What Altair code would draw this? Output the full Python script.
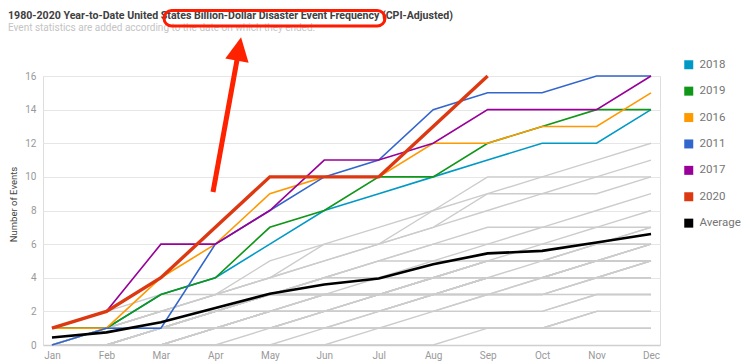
import altair as alt
import pandas as pd

months = ["Jan", "Feb", "Mar", "Apr", "May", "Jun", "Jul", "Aug", "Sep", "Oct", "Nov", "Dec"]

# Highlighted years (cumulative events by month)
y2018 = [1, 1, 3, 4, 6, 8, 9, 10, 11, 12, 12, 14]
y2019 = [1, 1, 3, 4, 7, 8, 10, 10, 12, 13, 14, 14]
y2016 = [1, 1, 4, 6, 9, 10, 10, 12, 12, 13, 13, 15]
y2011 = [0, 1, 1, 6, 8, 10, 11, 14, 15, 15, 16, 16]
y2017 = [1, 2, 6, 6, 8, 11, 11, 12, 14, 14, 14, 16]
y2020 = [1, 2, 4, 7, 10, 10, 10, 13, 16]
average = [0.45, 0.75, 1.35, 2.2, 3.05, 3.6, 3.95, 4.8, 5.45, 5.6, 6.1, 6.6]

# Other years (grey background lines)
gray_years = {
    "1980": [0, 0, 0, 1, 1, 1, 2, 2, 3, 3, 3, 3],
    "1981": [0, 0, 0, 0, 1, 1, 1, 1, 1, 1, 2, 2],
    "1982": [0, 1, 1, 1, 2, 2, 2, 2, 2, 2, 3, 3],
    "1983": [0, 0, 1, 1, 2, 2, 2, 3, 4, 4, 5, 5],
    "1984": [0, 0, 0, 1, 1, 1, 1, 1, 1, 1, 2, 2],
    "1985": [0, 0, 0, 1, 1, 1, 2, 3, 4, 5, 6, 6],
    "1986": [0, 0, 0, 0, 0, 1, 1, 1, 1, 1, 2, 2],
    "1987": [0, 0, 0, 0, 0, 0, 0, 0, 1, 1, 1, 1],
    "1988": [0, 0, 0, 0, 0, 0, 1, 1, 1, 1, 1, 1],
    "1989": [0, 0, 1, 1, 1, 1, 1, 2, 3, 3, 4, 4],
    "1990": [0, 1, 1, 1, 2, 2, 3, 3, 3, 3, 4, 4],
    "1991": [0, 0, 0, 1, 1, 2, 2, 3, 3, 4, 4, 4],
    "1992": [0, 0, 1, 1, 2, 3, 3, 4, 5, 5, 6, 7],
    "1993": [0, 0, 1, 1, 1, 2, 3, 3, 4, 4, 5, 5],
    "1994": [1, 1, 1, 2, 2, 2, 2, 3, 3, 4, 4, 5],
    "1995": [0, 1, 1, 2, 2, 3, 3, 4, 5, 5, 5, 6],
    "1996": [1, 1, 1, 1, 2, 3, 3, 3, 4, 4, 4, 5],
    "1997": [1, 1, 2, 2, 3, 3, 3, 3, 3, 3, 4, 5],
    "1998": [1, 2, 3, 3, 4, 5, 6, 7, 9, 9, 10, 10],
    "1999": [1, 1, 2, 2, 3, 3, 3, 4, 5, 5, 5, 6],
    "2000": [0, 0, 1, 1, 2, 2, 3, 3, 4, 4, 4, 5],
    "2001": [0, 0, 0, 1, 1, 2, 2, 2, 2, 2, 3, 3],
    "2002": [0, 0, 1, 2, 3, 3, 4, 4, 5, 5, 6, 6],
    "2003": [0, 1, 1, 2, 3, 4, 4, 5, 6, 6, 7, 7],
    "2004": [0, 0, 0, 1, 1, 2, 2, 3, 4, 4, 5, 5],
    "2005": [0, 1, 1, 1, 2, 2, 3, 4, 5, 5, 5, 6],
    "2006": [0, 0, 1, 2, 3, 3, 3, 4, 5, 6, 6, 7],
    "2007": [1, 1, 1, 2, 2, 3, 3, 4, 4, 4, 5, 5],
    "2008": [1, 2, 2, 3, 5, 6, 7, 8, 9, 10, 10, 11],
    "2009": [1, 1, 2, 3, 3, 4, 5, 5, 5, 5, 5, 6],
    "2010": [0, 0, 1, 2, 3, 3, 3, 4, 4, 4, 5, 5],
    "2012": [0, 1, 2, 3, 4, 6, 6, 8, 10, 10, 11, 12],
    "2013": [0, 1, 1, 2, 3, 4, 5, 6, 7, 7, 8, 9],
    "2014": [0, 1, 1, 2, 3, 4, 5, 6, 6, 7, 7, 8],
    "2015": [0, 1, 2, 3, 4, 5, 6, 7, 8, 9, 9, 10],
}

legend_labels = ["2018", "2019", "2016", "2011", "2017", "2020", "Average"]
legend_colors = ["#0099c6", "#109618", "#ff9900", "#3366cc", "#990099", "#dc3912", "#000000"]

title_text = "1980-2020 Year-to-Date United States Billion-Dollar Disaster Event Frequency (CPI-Adjusted)"
subtitle_text = "Event statistics are added according to the date on which they ended."


def long(name, values):
    return [{"series": name, "month": m, "events": v} for m, v in zip(months, values)]


gray_rows = []
for k, v in gray_years.items():
    gray_rows += long(k, v)
gray_df = pd.DataFrame(gray_rows)

main_df = pd.DataFrame(
    long("2018", y2018) + long("2019", y2019) + long("2016", y2016)
    + long("2011", y2011) + long("2017", y2017)
)
avg_df = pd.DataFrame(long("Average", average))
red_df = pd.DataFrame(long("2020", y2020))

x_enc = alt.X(
    "month:O", sort=months,
    scale=alt.Scale(type="point", padding=0.165),
    axis=alt.Axis(title=None, labelAngle=0, labelFontSize=10, labelColor="#999999",
                  labelFont="Roboto", ticks=False, domain=True, domainColor="#cfcfcf",
                  domainWidth=1.5, labelPadding=5, grid=False),
)
y_enc = alt.Y(
    "events:Q",
    scale=alt.Scale(domain=[0, 16], nice=False),
    axis=alt.Axis(title="Number of Events", values=list(range(0, 17, 2)), labelFontSize=10,
                  labelColor="#999999", labelFont="Roboto", ticks=False, domain=False,
                  labelPadding=7, gridColor="#e6e6e6", gridWidth=1,
                  titleFont="Roboto", titleFontSize=9.5, titleFontWeight="normal",
                  titleColor="#444444", titleX=-30, titleY=128, titleAngle=-90,
                  titleAlign="center", titleBaseline="middle"),
)

color_scale = alt.Scale(domain=legend_labels, range=legend_colors)
legend = alt.Legend(
    title=None, orient="none", legendX=640, legendY=-17, symbolType="square",
    symbolSize=16, symbolStrokeWidth=5, labelFontSize=11.5, labelColor="#757575",
    labelFont="Roboto", rowPadding=1.4, labelOffset=5, padding=0, symbolOpacity=1,
)
color_enc = alt.Color("series:N", scale=color_scale, legend=legend)

gray = alt.Chart(gray_df).mark_line(strokeWidth=1.4, color="#cccccc").encode(
    x=x_enc, y=y_enc, detail="series:N"
)
main = alt.Chart(main_df).mark_line(strokeWidth=1.6).encode(x=x_enc, y=y_enc, color=color_enc)
avg = alt.Chart(avg_df).mark_line(strokeWidth=2.6).encode(x=x_enc, y=y_enc, color=color_enc)
red = alt.Chart(red_df).mark_line(strokeWidth=3.4).encode(x=x_enc, y=y_enc, color=color_enc)

ann_df = pd.DataFrame({"title": [title_text], "subtitle": [subtitle_text]})
title_mark = alt.Chart(ann_df).mark_text(
    align="left", baseline="alphabetic", font="Roboto", fontSize=10.6, fontWeight="bold",
    color="#404040"
).encode(x=alt.value(-35), y=alt.value(-57), text="title:N")
subtitle_mark = alt.Chart(ann_df).mark_text(
    align="left", baseline="alphabetic", font="Roboto", fontSize=10, color="#c4c4c4"
).encode(x=alt.value(-35), y=alt.value(-45), text="subtitle:N")

box = alt.Chart(ann_df).mark_rect(
    fill="transparent", stroke="#ff1a00", strokeWidth=3, cornerRadius=9
).encode(x=alt.value(121), x2=alt.value(342), y=alt.value(-65.5), y2=alt.value(-50))
shaft = alt.Chart(ann_df).mark_rule(color="#ff2200", strokeWidth=5).encode(
    x=alt.value(170), y=alt.value(116), x2=alt.value(194), y2=alt.value(-16)
)
head = alt.Chart(ann_df).mark_point(
    shape="M0,-1L-1,1L1,1Z", size=560, filled=True, color="#ff2200", opacity=1, angle=10
).encode(x=alt.value(196), y=alt.value(-27))

chart = alt.layer(gray, main, avg, red, title_mark, subtitle_mark, box, shaft, head).properties(
    width=617, height=269,
    autosize=alt.AutoSizeParams(type="none"),
    padding={"left": 35, "top": 68, "right": 82, "bottom": 20},
).configure_view(stroke=None).configure(background="white")

chart.save("out.html", embed_options={"renderer": "svg", "actions": False})
